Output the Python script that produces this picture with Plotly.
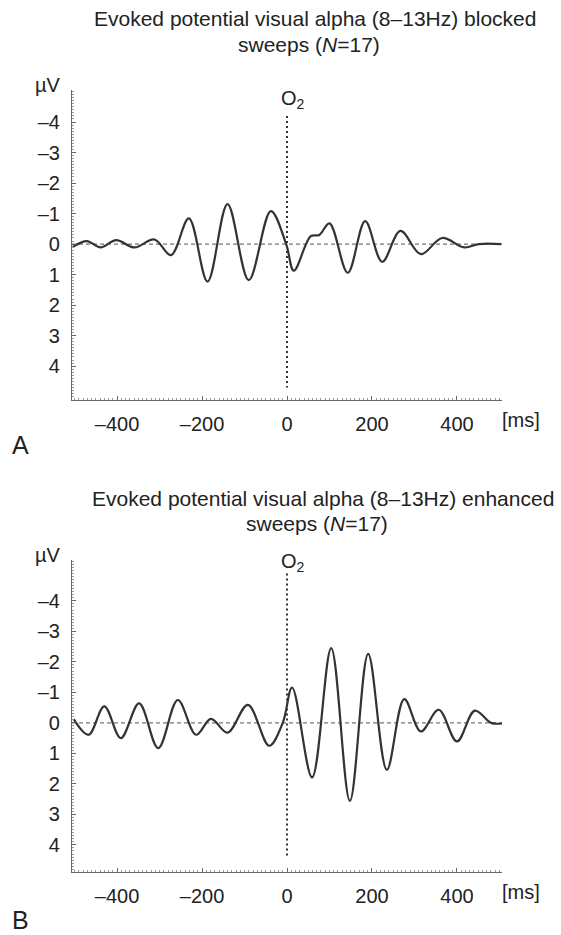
import plotly.graph_objects as go

# ---------------- data ----------------
# Panel A: alpha blocked sweeps
time_a = [-504, -471, -439, -402, -359, -312, -273, -231, -187, -140, -90, -38, -2, 16,
          56, 76, 100, 143, 184, 224, 267, 315, 365, 417, 452, 504]
volt_a = [0.09, -0.10, 0.11, -0.13, 0.11, -0.15, 0.36, -0.84, 1.23, -1.31, 1.18, -1.08, 0.0, 0.87,
          -0.26, -0.30, -0.68, 0.94, -0.75, 0.58, -0.43, 0.33, -0.20, 0.11, 0.0, 0.0]

# Panel B: alpha enhanced sweeps
time_b = [-502, -467, -430, -391, -348, -303, -257, -214, -179, -140, -92, -42, -10, 12,
          59, 104, 148, 191, 235, 276, 315, 357, 400, 442, 480, 507]
volt_b = [-0.12, 0.39, -0.54, 0.50, -0.64, 0.83, -0.75, 0.39, -0.13, 0.32, -0.59, 0.75, 0.0, -1.16,
          1.79, -2.45, 2.56, -2.26, 1.54, -0.78, 0.28, -0.43, 0.61, -0.40, 0.0, 0.02]

x_tickvals = [-400, -200, 0, 200, 400]
x_ticktext = ["–400", "–200", "0", "200", "400"]
y_tickvals = [-4, -3, -2, -1, 0, 1, 2, 3, 4]
y_ticktext = ["–4", "–3", "–2", "–1", "0", "1", "2", "3", "4"]

title_a = ["Evoked potential visual alpha (8–13Hz) blocked", "sweeps (<i>N</i>=17)"]
title_b = ["Evoked potential visual alpha (8–13Hz) enhanced", "sweeps (<i>N</i>=17)"]

# ---------------- layout helpers ----------------
W, H = 561, 935
FONT = "Liberation Sans, Arial, sans-serif"
INK = "#222222"
AX = "#666666"


def px(x):
    return x / W


def py(y):
    return 1 - y / H


x_range = [-506, 506]
dom_x = [px(72), px(502)]

panels = [
    dict(t=time_a, v=volt_a, top=90, bot=400, yr=[5.11, -5.05], title=title_a,
         tcx=[315, 309], tcy=[19, 44], letter="A", ly=445, o2y=100, dot=[-4.2, 4.7]),
    dict(t=time_b, v=volt_b, top=560, bot=872, yr=[4.89, -5.34], title=title_b,
         tcx=[323, 317], tcy=[498, 523], letter="B", ly=920, o2y=562, dot=[-4.9, 4.35]),
]

fig = go.Figure()
annotations = []

for i, p in enumerate(panels):
    xa = "x" if i == 0 else "x2"
    ya = "y" if i == 0 else "y2"
    xkey = "xaxis" if i == 0 else "xaxis2"
    ykey = "yaxis" if i == 0 else "yaxis2"

    # zero reference (dashed)
    fig.add_trace(go.Scatter(x=[x_range[0], x_range[1]], y=[0, 0], mode="lines",
                             line=dict(color="#777777", width=1.3, dash="4px,3px"),
                             xaxis=xa, yaxis=ya, hoverinfo="skip", showlegend=False))
    # stimulus marker (dotted)
    fig.add_trace(go.Scatter(x=[0, 0], y=p["dot"], mode="lines",
                             line=dict(color="#333333", width=2, dash="2px,3px"),
                             xaxis=xa, yaxis=ya, hoverinfo="skip", showlegend=False))
    # waveform
    fig.add_trace(go.Scatter(x=p["t"], y=p["v"], mode="lines",
                             line=dict(color="#333333", width=2.2, shape="spline", smoothing=1.0),
                             xaxis=xa, yaxis=ya, hoverinfo="skip", showlegend=False))

    fig.layout[xkey] = dict(
        domain=dom_x, anchor=ya, range=x_range, tickmode="array",
        tickvals=x_tickvals, ticktext=x_ticktext, showgrid=False, zeroline=False,
        showline=True, linecolor=AX, linewidth=1.2, ticks="inside", ticklen=4,
        tickcolor=AX, tickfont=dict(family=FONT, size=20, color=INK), ticklabelstandoff=6,
        minor=dict(ticks="inside", ticklen=2, tickcolor="#999999", dtick=10, tick0=0,
                   showgrid=False),
        fixedrange=True,
    )
    fig.layout[ykey] = dict(
        domain=[py(p["bot"]), py(p["top"])], anchor=xa, range=p["yr"], tickmode="array",
        tickvals=y_tickvals, ticktext=y_ticktext, showgrid=False, zeroline=False,
        showline=True, linecolor=AX, linewidth=1.2, ticks="inside", ticklen=4,
        tickcolor=AX, tickfont=dict(family=FONT, size=20, color=INK), ticklabelstandoff=7,
        minor=dict(ticks="inside", ticklen=2, tickcolor="#999999", dtick=0.1, tick0=0,
                   showgrid=False),
        fixedrange=True,
    )

    # title lines
    for line, cx, cy in zip(p["title"], p["tcx"], p["tcy"]):
        annotations.append(dict(text=line, x=px(cx), y=py(cy), xref="paper", yref="paper",
                                xanchor="center", yanchor="middle", showarrow=False,
                                font=dict(family=FONT, size=21, color=INK)))
    # unit labels
    annotations.append(dict(text="µV", x=px(48), y=py(p["top"] - 5), xref="paper", yref="paper",
                            xanchor="center", yanchor="middle", showarrow=False,
                            font=dict(family=FONT, size=20, color=INK)))
    annotations.append(dict(text="[ms]", x=px(521), y=py(p["bot"] + 20), xref="paper",
                            yref="paper", xanchor="center", yanchor="middle", showarrow=False,
                            font=dict(family=FONT, size=20, color=INK)))
    # electrode label
    annotations.append(dict(text="O<sub>2</sub>", x=px(293), y=py(p["o2y"]), xref="paper",
                            yref="paper", xanchor="center", yanchor="middle", showarrow=False,
                            font=dict(family=FONT, size=20, color=INK)))
    # panel letter
    annotations.append(dict(text=p["letter"], x=px(20), y=py(p["ly"]), xref="paper",
                            yref="paper", xanchor="center", yanchor="middle", showarrow=False,
                            font=dict(family=FONT, size=25, color=INK)))

fig.update_layout(
    width=W, height=H, margin=dict(l=0, r=0, t=0, b=0),
    paper_bgcolor="white", plot_bgcolor="white",
    annotations=annotations, showlegend=False,
)

fig.write_html("out.html", config={"displayModeBar": False})
